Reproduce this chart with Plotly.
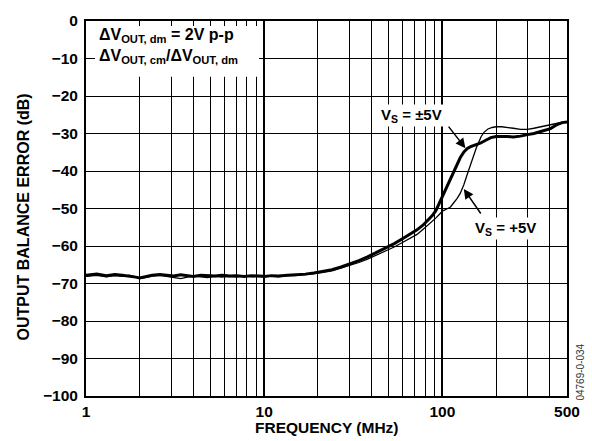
import math
import plotly.graph_objects as go

# Output balance error vs frequency, two supply configurations
freq_dual = [1, 1.15, 1.3, 1.45, 1.6, 1.75, 1.9, 2.0, 2.15, 2.35, 2.6, 2.85, 3.1, 3.4, 3.7,
             4.0, 4.4, 4.8, 5.3, 5.8, 6.4, 7.0, 7.7, 8.5, 9.3, 10, 11, 12, 13.5, 15, 17, 19,
             21, 24, 27, 30, 34, 38, 43, 48, 54, 60, 66, 72, 78, 84, 88, 92, 96, 100, 105,
             111, 116, 121, 126, 132, 138, 144, 152, 163, 175, 187, 200, 215, 231, 250, 274,
             300, 326, 360, 404, 440, 470, 500]
err_dual = [-67.8, -67.5, -67.9, -67.6, -67.8, -68.0, -68.3, -68.5, -68.1, -67.8, -67.6, -67.8,
            -68.0, -67.7, -67.9, -68.1, -67.8, -67.9, -68.0, -67.8, -68.0, -67.9, -68.1, -67.9,
            -68.0, -68.1, -67.9, -68.0, -67.8, -67.7, -67.5, -67.2, -66.9, -66.3, -65.6, -64.9,
            -63.9, -62.9, -61.7, -60.6, -59.3, -58.0, -56.9, -55.7, -54.4, -52.9, -51.8, -50.5,
            -48.6, -46.8, -44.6, -42.4, -40.3, -38.3, -36.4, -34.9, -34.0, -33.5, -33.1, -32.6,
            -31.8, -31.1, -30.8, -30.7, -30.8, -30.9, -30.7, -30.3, -30.0, -29.4, -28.7, -27.6,
            -27.1, -26.9]

freq_single = [1, 1.15, 1.3, 1.45, 1.6, 1.75, 1.9, 2.0, 2.15, 2.35, 2.6, 2.85, 3.1, 3.4, 3.7,
               4.0, 4.4, 4.8, 5.3, 5.8, 6.4, 7.0, 7.7, 8.5, 9.3, 10, 11, 12, 13.5, 15, 17, 19,
               21, 24, 27, 30, 34, 38, 43, 48, 54, 60, 66, 72, 78, 84, 88, 92, 96, 100, 105,
               111, 116, 121, 126, 132, 138, 144, 150, 155, 160, 165, 171, 180, 190, 200, 215,
               231, 250, 274, 300, 326, 360, 404, 440, 470, 500]
err_single = [-68.1, -67.8, -68.2, -67.9, -68.1, -67.8, -68.2, -68.7, -68.4, -68.0, -67.8, -68.1,
              -68.4, -68.7, -68.3, -68.0, -68.2, -68.4, -68.1, -68.3, -68.1, -68.3, -68.0, -68.2,
              -68.1, -68.3, -68.0, -68.2, -67.9, -67.9, -67.6, -67.4, -67.1, -66.6, -65.9, -65.3,
              -64.4, -63.5, -62.4, -61.4, -60.2, -59.0, -57.9, -56.9, -55.5, -54.2, -53.4, -52.5,
              -51.6, -50.7, -50.2, -49.6, -48.4, -47.3, -45.9, -43.6, -40.8, -38.0, -35.8, -33.8,
              -32.3, -30.8, -29.7, -28.8, -28.4, -28.2, -28.2, -28.3, -28.6, -28.9, -28.9, -28.6,
              -28.2, -27.6, -27.2, -27.0, -26.9]

x_major = [1, 10, 100, 500]
x_major_text = ["1", "10", "100", "500"]
x_minor = [2, 3, 4, 5, 6, 7, 8, 9, 20, 30, 40, 50, 60, 70, 80, 90, 200, 300, 400]
y_grid = [0, -10, -20, -30, -40, -50, -60, -70, -80, -90, -100]
y_labels = ["0", "−10", "−20", "−30", "−40", "−50", "−60", "−70", "−80", "−90", "−100"]

FONT = "Liberation Sans, Arial, Helvetica, sans-serif"
TICK_FONT = dict(family=FONT, size=15.5, color="black", weight="bold")

fig = go.Figure()
fig.add_trace(go.Scatter(x=freq_single, y=err_single, mode="lines",
                         line=dict(color="black", width=1.3), showlegend=False))
fig.add_trace(go.Scatter(x=freq_dual, y=err_dual, mode="lines",
                         line=dict(color="black", width=3), showlegend=False))

fig.update_layout(
    width=592, height=441,
    margin=dict(l=86, r=25, t=13, b=45),
    paper_bgcolor="white", plot_bgcolor="white",
    font=dict(family=FONT, color="black"),
    xaxis=dict(type="log", range=[0, math.log10(500)],
               tickvals=x_major, ticktext=x_major_text,
               showgrid=True, gridcolor="black", gridwidth=2,
               minor=dict(tickvals=x_minor, showgrid=True, gridcolor="black",
                          gridwidth=1.2, ticks=""),
               showline=True, linecolor="black", linewidth=2, mirror=True,
               ticks="", zeroline=False, tickfont=TICK_FONT),
    yaxis=dict(range=[-100, 0], tickvals=y_grid, ticktext=y_labels,
               showgrid=True, gridcolor="black", gridwidth=1.2,
               showline=True, linecolor="black", linewidth=2, mirror=True,
               ticks="", zeroline=False, ticklabelstandoff=3, tickfont=TICK_FONT),
)

# white panel behind the condition text
fig.add_shape(type="rect", xref="paper", yref="paper",
              x0=0.0187, x1=0.3597, y0=0.8512, y1=0.9869,
              fillcolor="white", line=dict(width=0), layer="above")

fig.add_annotation(xref="paper", yref="paper", x=0.0229, y=0.991, xanchor="left", yanchor="top",
                   align="left", showarrow=False,
                   text="ΔV<sub>OUT, dm</sub> = 2V p-p<br>ΔV<sub>OUT, cm</sub>/ΔV<sub>OUT, dm</sub>",
                   font=dict(family=FONT, size=16, color="black", weight="bold"))

# curve labels
fig.add_annotation(x=1.826, y=-25.1, xref="x", yref="y", showarrow=False,
                   text="V<sub>S</sub> = ±5V", bgcolor="white", borderpad=1,
                   font=dict(family=FONT, size=15, color="black", weight="bold"))
fig.add_annotation(x=2.354, y=-55.4, xref="x", yref="y", showarrow=False,
                   text="V<sub>S</sub> = +5V", bgcolor="white", borderpad=1,
                   font=dict(family=FONT, size=15, color="black", weight="bold"))

# arrows pointing to each curve
fig.add_annotation(x=math.log10(134.6), y=-33.9, xref="x", yref="y", text="",
                   showarrow=True, ax=-18, ay=-23, arrowhead=2, arrowsize=1.3,
                   arrowwidth=1.5, arrowcolor="black")
fig.add_annotation(x=math.log10(131.8), y=-44.8, xref="x", yref="y", text="",
                   showarrow=True, ax=18, ay=26, arrowhead=2, arrowsize=1.3,
                   arrowwidth=1.5, arrowcolor="black")

# axis titles
fig.add_annotation(xref="paper", yref="paper", x=0.5, y=-0.0836,
                   xanchor="center", yanchor="middle",
                   showarrow=False, text="FREQUENCY (MHz)",
                   font=dict(family=FONT, size=15.5, color="black", weight="bold"))
fig.add_annotation(xref="paper", yref="paper", x=-0.1295, y=0.478, textangle=-90,
                   xanchor="center", yanchor="middle",
                   showarrow=False, text="OUTPUT BALANCE ERROR (dB)",
                   font=dict(family=FONT, size=16, color="black", weight="bold"))

# figure code
fig.add_annotation(xref="paper", yref="paper", x=1.029, y=0.065, textangle=-90,
                   xanchor="center", yanchor="middle",
                   showarrow=False, text="04769-0-034",
                   font=dict(family=FONT, size=10, color="#333333"))

fig.write_html("out.html")
